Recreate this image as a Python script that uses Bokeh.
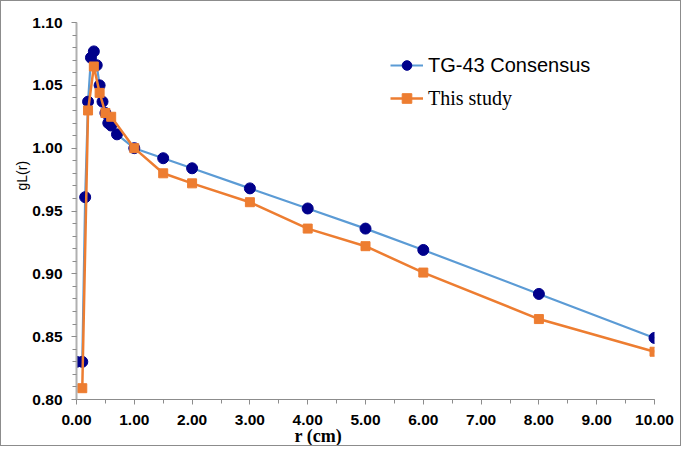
from bokeh.plotting import figure
from bokeh.models import (Legend, LegendItem, SingleIntervalTicker, NumeralTickFormatter,
                          Range1d, Title)
from bokeh.embed import file_html
from bokeh.resources import INLINE

# ---- data ----
tg43_r = [0.0, 0.1, 0.15, 0.2, 0.25, 0.3, 0.35, 0.4, 0.45, 0.5, 0.55, 0.6, 0.7,
          1.0, 1.5, 2.0, 3.0, 4.0, 5.0, 6.0, 8.0, 10.0]
tg43_g = [0.830, 0.830, 0.961, 1.037, 1.072, 1.077, 1.066, 1.050, 1.037, 1.028, 1.020, 1.018, 1.011,
          1.000, 0.992, 0.984, 0.968, 0.952, 0.936, 0.919, 0.884, 0.849]
study_r = [0.1, 0.2, 0.3, 0.4, 0.5, 0.6, 1.0, 1.5, 2.0, 3.0, 4.0, 5.0, 6.0, 8.0, 10.0]
study_g = [0.809, 1.030, 1.065, 1.044, 1.028, 1.025, 1.000, 0.980, 0.972, 0.957, 0.936, 0.922,
           0.901, 0.864, 0.838]
series_names = ["TG-43 Consensus", "This study"]
x_label = "r (cm)"
y_label = "gL(r)"

BLUE_LINE = "#5B9BD5"
BLUE_MARK = "#00008B"
ORANGE = "#ED7D31"

p = figure(width=681, height=446, output_backend="svg", toolbar_location=None,
           x_range=Range1d(0, 10), y_range=Range1d(0.80, 1.10),
           min_border_left=75, min_border_right=28, min_border_top=21, min_border_bottom=48)
p.outline_line_color = None
p.xgrid.visible = False
p.ygrid.visible = False
p.styles = {"border": "1px solid #8c8c8c"}

l1 = p.line(tg43_r, tg43_g, line_color=BLUE_LINE, line_width=2.2)
s1 = p.scatter(tg43_r, tg43_g, marker="circle", size=11, fill_color=BLUE_MARK, line_color=BLUE_MARK)
l2 = p.line(study_r, study_g, line_color=ORANGE, line_width=2.5)
s2 = p.scatter(study_r, study_g, marker="square", size=9, fill_color=ORANGE, line_color=ORANGE)

# axes
p.xaxis.ticker = SingleIntervalTicker(interval=1, num_minor_ticks=2)
p.yaxis.ticker = SingleIntervalTicker(interval=0.05, num_minor_ticks=5)
p.xaxis.formatter = NumeralTickFormatter(format="0.00")
p.yaxis.formatter = NumeralTickFormatter(format="0.00")
for ax in (p.xaxis, p.yaxis):
    ax.major_label_text_font = "Liberation Sans"
    ax.major_label_text_font_style = "bold"
    ax.major_label_text_font_size = "15.5px"
    ax.major_label_text_color = "black"
    ax.major_tick_in = 0
    ax.major_tick_out = 5
    ax.minor_tick_in = 0
    ax.minor_tick_out = 4
    ax.major_tick_line_color = "#8c8c8c"
    ax.minor_tick_line_color = "#8c8c8c"
p.xaxis.axis_line_color = "#8c8c8c"
p.xaxis.axis_line_width = 1
p.yaxis.axis_line_color = "#b0b0b0"
p.yaxis.axis_line_width = 2
p.xaxis.major_label_standoff = 10
p.yaxis.major_label_standoff = 9

# axis titles, placed off-centre as in the reference
xt = Title(text=x_label, align="left", offset=218, text_font="Liberation Serif",
           text_font_style="bold", text_font_size="18px", text_color="black", standoff=-8)
p.add_layout(xt, "below")
yt = Title(text=y_label, align="left", offset=209, text_font="Liberation Sans",
           text_font_style="normal", text_font_size="14px", text_color="black", standoff=0)
p.add_layout(yt, "left")

# legends
def make_legend(label, renderers, loc, font):
    lg = Legend(items=[LegendItem(label=label, renderers=renderers)], location=loc,
                orientation="vertical", padding=0, margin=0, spacing=0,
                glyph_width=33, glyph_height=24, label_height=24, label_standoff=5,
                label_text_font=font, label_text_font_size="20px", label_text_color="black",
                border_line_alpha=0, background_fill_alpha=0)
    p.add_layout(lg, "center")

make_legend(series_names[0], [l1, s1], (314, 322), "Liberation Sans")
make_legend(series_names[1], [l2, s2], (314, 289), "Liberation Serif")

open("out.html", "w").write(file_html(p, INLINE))
